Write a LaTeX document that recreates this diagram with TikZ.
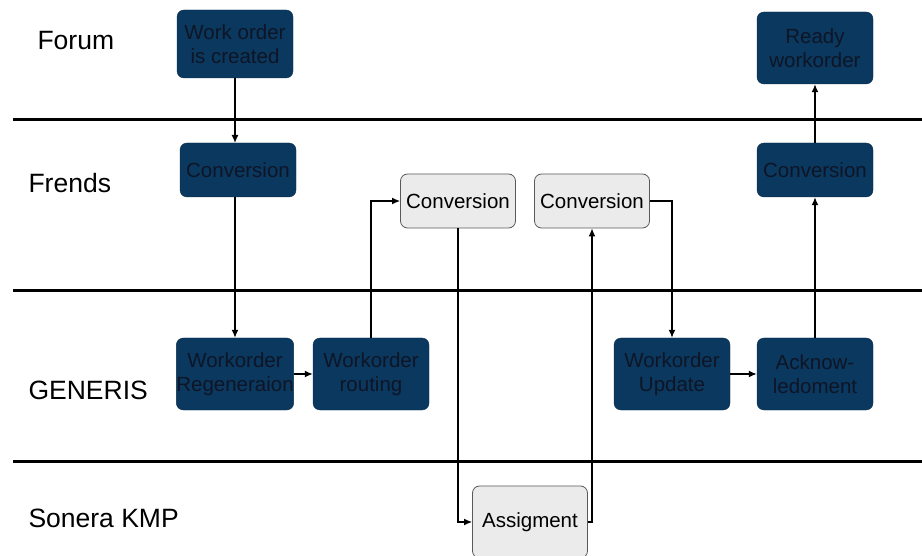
\documentclass[tikz,border=0pt]{standalone}
\usepackage{fontspec}
\setmainfont{Liberation Sans}
\usepackage{tikz}
\usetikzlibrary{arrows.meta}
\definecolor{navy}{HTML}{0B385E}
\definecolor{navytext}{HTML}{0E1526}
\definecolor{pale}{HTML}{EBEBEB}

\begin{document}
\begin{tikzpicture}[x=1pt,y=-1pt,>={Latex[length=8pt,width=7pt]},
	dark/.style={rounded corners=7pt, fill=navy, draw=navy!80!black, text=navytext,
		minimum width=116pt, inner xsep=0pt, align=center, font=\fontsize{20.5}{24}\selectfont},
	light/.style={rounded corners=7pt, fill=pale, draw=black!65, line width=0.8pt,
		minimum width=115pt, minimum height=54pt, align=center, font=\fontsize{20.5}{24}\selectfont},
	lane/.style={line width=3pt},
	swim/.style={anchor=west, font=\fontsize{26.5}{28}\selectfont},
	flow/.style={->, line width=1.4pt}]
\useasboundingbox (0,0) rectangle (922,556);
% swimlanes
\draw[lane] (13,120) -- (922,120);
\draw[lane] (13,291) -- (922,291);
\draw[lane] (13,461) -- (922,461);
\node[swim] (fo) at (34,41) {Forum};
\node[swim] (fr) at (25,183) {Frends};
\node[swim] (ge) at (25,390) {GENERIS};
\node[swim] (so) at (25,518) {Sonera KMP};
% boxes
\node[dark, minimum height=68pt] (wo) at (235,44) {Work order\\is created};
\node[dark, minimum height=54pt] (c1) at (238,170) {Conversion};
\node[light] (c2) at (458,201) {Conversion};
\node[light] (c3) at (592,201) {Conversion};
\node[dark, minimum height=54pt] (c4) at (815,170) {Conversion};
\node[dark, minimum height=72pt] (rd) at (815,48) {Ready\\workorder};
\node[dark, minimum height=72pt] (rg) at (235,374) {Workorder\\Regeneraion};
\node[dark, minimum height=72pt] (rt) at (371,374) {Workorder\\routing};
\node[dark, minimum height=72pt] (up) at (672,374) {Workorder\\Update};
\node[dark, minimum height=72pt] (ak) at (815,374) {Acknow-\\ledoment};
\node[light, minimum height=72pt] (as) at (530,522) {Assigment};
% connectors
\draw[flow] (wo.south -| 235,0) -- (235,143);
\draw[flow] (c1.south -| 235,0) -- (rg);
\draw[flow] (rg) -- (rt);
\draw[flow] (rt) |- (c2);
\draw[flow] (c2) |- (as);
\draw[flow] (as.east) -| (c3);
\draw[flow] (c3) -| (up);
\draw[flow] (up) -- (ak);
\draw[flow] (ak) -- (c4);
\draw[flow] (c4) -- (rd);
\end{tikzpicture}
\end{document}
